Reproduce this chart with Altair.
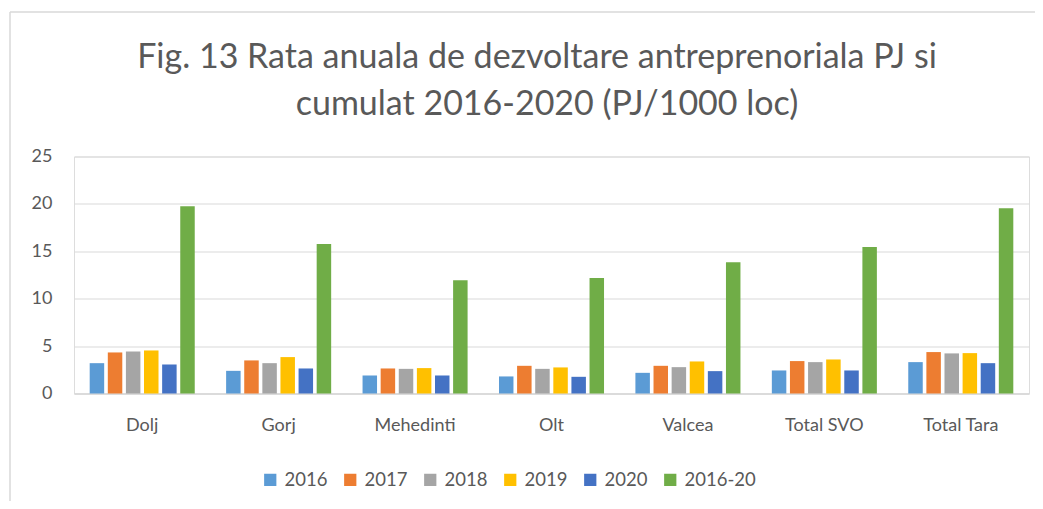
import altair as alt
import pandas as pd

regions = ["Dolj", "Gorj", "Mehedinti", "Olt", "Valcea", "Total SVO", "Total Tara"]
series = ["2016", "2017", "2018", "2019", "2020", "2016-20"]
colors = ["#5B9BD5", "#ED7D31", "#A5A5A5", "#FFC000", "#4472C4", "#70AD47"]
title_lines = ["Fig. 13 Rata anuala de dezvoltare antreprenoriala PJ si",
               "cumulat 2016-2020  (PJ/1000 loc)"]

v2016 = [3.20, 2.39, 1.90, 1.80, 2.18, 2.43, 3.31]
v2017 = [4.33, 3.49, 2.64, 2.92, 2.92, 3.42, 4.37]
v2018 = [4.44, 3.20, 2.60, 2.60, 2.78, 3.31, 4.23]
v2019 = [4.54, 3.84, 2.68, 2.75, 3.38, 3.59, 4.26]
v2020 = [3.06, 2.64, 1.90, 1.76, 2.36, 2.43, 3.20]
vcum = [19.75, 15.77, 11.94, 12.18, 13.84, 15.46, 19.54]

values = [v2016, v2017, v2018, v2019, v2020, vcum]
rows = []
for s, vals in zip(series, values):
    for r, v in zip(regions, vals):
        rows.append({"Regiune": r, "An": s, "Valoare": v})
df = pd.DataFrame(rows)

FONT = "Lato"
TXT = "#595959"
GRID = "#d9d9d9"

bars = alt.Chart(df).mark_bar().encode(
    x=alt.X("Regiune:N", sort=regions,
            scale=alt.Scale(paddingInner=0.23, paddingOuter=0.115),
            axis=alt.Axis(title=None, labelAngle=0, labelFontSize=18, labelColor=TXT,
                          labelFont=FONT, ticks=False, domainColor=GRID, domainWidth=1.5,
                          labelPadding=23)),
    xOffset=alt.XOffset("An:N", sort=series, scale=alt.Scale(paddingInner=0.2)),
    y=alt.Y("Valoare:Q", scale=alt.Scale(domain=[0, 25]),
            axis=alt.Axis(title=None, values=[0, 5, 10, 15, 20, 25], labelFontSize=18,
                          labelColor=TXT, labelFont=FONT, ticks=False, domain=False,
                          gridColor=GRID, gridWidth=1.2, labelPadding=22)),
    color=alt.Color("An:N", sort=series,
                    scale=alt.Scale(domain=series, range=colors),
                    legend=alt.Legend(title=None, orient="none", direction="horizontal",
                                      legendX=187, legendY=314, symbolType="square",
                                      symbolSize=150, symbolStrokeWidth=0, labelFontSize=18.5,
                                      labelColor=TXT, labelFont=FONT, columnPadding=13,
                                      symbolOpacity=1, labelOffset=5)),
)

one = pd.DataFrame({"k": [0]})
left_border = alt.Chart(one).mark_rule(color=GRID, strokeWidth=1.5).encode(
    x=alt.value(-64), y=alt.value(-144.5), y2=alt.value(400))
top_border = alt.Chart(one).mark_rule(color=GRID, strokeWidth=1.5).encode(
    x=alt.value(-64), x2=alt.value(1000), y=alt.value(-144.5))
title1 = alt.Chart(one).mark_text(text=title_lines[0], font=FONT, fontSize=34, color=TXT,
                                  align="center", baseline="alphabetic").encode(
    x=alt.value(463), y=alt.value(-88.5))
title2 = alt.Chart(one).mark_text(text=title_lines[1], font=FONT, fontSize=34, color=TXT,
                                  align="center", baseline="alphabetic").encode(
    x=alt.value(473), y=alt.value(-41.5))

chart = alt.layer(left_border, top_border, title1, title2, bars).properties(
    width=955, height=237,
    autosize=alt.AutoSizeParams(type="none"),
    padding={"left": 66, "top": 148.5, "right": 6, "bottom": 107.5},
).configure_view(stroke=None).configure(background="white")

chart.save("out.html", embed_options={"renderer": "svg", "actions": False})
